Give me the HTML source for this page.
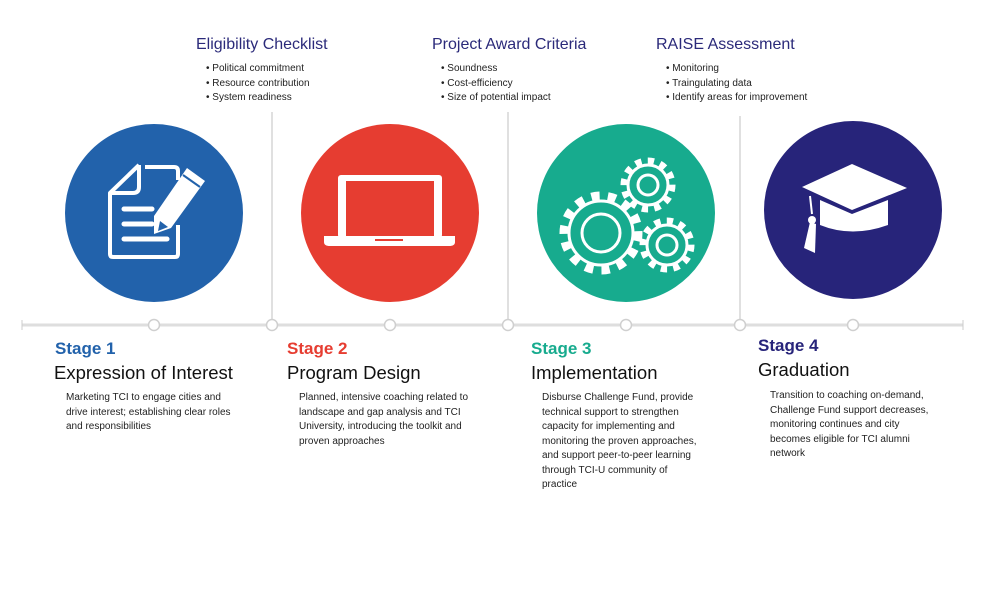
<!DOCTYPE html>
<html><head><meta charset="utf-8"><style>
body{margin:0;width:1000px;height:612px;background:#fff;font-family:"Liberation Sans",sans-serif;position:relative;overflow:hidden}
.t{position:absolute;white-space:nowrap}
.h{font-size:16px;color:#2b2a7a}
.b{font-size:10px;color:#222;line-height:14.5px}
.st{font-size:17px;font-weight:bold}
.ti{font-size:18.5px;color:#111}
.d{font-size:10px;color:#222;line-height:14.5px}
</style></head><body>
<svg width="1000" height="612" style="position:absolute;left:0;top:0">
<g stroke="#d6d6d6" stroke-width="1.5" fill="none">
<line x1="272" y1="112" x2="272" y2="319"/><line x1="508" y1="112" x2="508" y2="319"/><line x1="740" y1="116" x2="740" y2="319"/>
</g>
<line x1="22" y1="325" x2="963" y2="325" stroke="#dedede" stroke-width="3"/>
<line x1="22" y1="320" x2="22" y2="330" stroke="#ccc"/><line x1="963" y1="320" x2="963" y2="330" stroke="#ccc"/>
<g fill="#fff" stroke="#cfcfcf" stroke-width="1.5">
<circle cx="154" cy="325" r="5.5"/><circle cx="272" cy="325" r="5.5"/><circle cx="390" cy="325" r="5.5"/><circle cx="508" cy="325" r="5.5"/><circle cx="626" cy="325" r="5.5"/><circle cx="740" cy="325" r="5.5"/><circle cx="853" cy="325" r="5.5"/>
</g>
<circle cx="154" cy="213" r="89" fill="#2262ab"/>
<circle cx="390" cy="213" r="89" fill="#e63d31"/>
<circle cx="626" cy="213" r="89" fill="#17ab8e"/>
<circle cx="853" cy="210" r="89" fill="#27247a"/>
<g fill="none" stroke="#fff" stroke-width="4" stroke-linejoin="round">
<path d="M145,167 L174,167 Q178,167 178,171 L178,180 M178,225 L178,254 Q178,257 175,257 L113,257 Q110,257 110,254 L110,193 L139,165"/>
<path d="M110,193 L133,193 Q139,193 139,187 L139,165"/>
</g>
<g stroke="#fff" stroke-width="5" stroke-linecap="round"><line x1="124" y1="209" x2="152" y2="209"/><line x1="124" y1="224" x2="152" y2="224"/><line x1="124" y1="239" x2="167" y2="239"/></g>
<path d="M187,168 L205,181 L171,228 L154,234 L154,216 Z" fill="#fff"/>
<path d="M160,221 L168,227 L158,231 Z" fill="#2262ab"/>
<line x1="183" y1="175" x2="200" y2="187" stroke="#2262ab" stroke-width="2"/>
<rect x="338" y="175" width="104" height="63" rx="3" fill="#fff"/>
<rect x="346" y="181" width="88" height="55" fill="#e63d31"/>
<path d="M324,236 L455,236 L455,242 Q455,246 449,246 L330,246 Q324,246 324,242 Z" fill="#fff"/>
<rect x="375" y="239" width="28" height="2" fill="#e63d31"/>
<g>
<circle cx="601" cy="233" r="36" fill="none" stroke="#fff" stroke-width="11" stroke-dasharray="8 8"/>
<circle cx="601" cy="233" r="32" fill="#17ab8e" stroke="#fff" stroke-width="3"/>
<circle cx="601" cy="233" r="19" fill="none" stroke="#fff" stroke-width="3"/>
<circle cx="648" cy="185" r="23" fill="none" stroke="#fff" stroke-width="9" stroke-dasharray="6 6"/>
<circle cx="648" cy="185" r="20" fill="#17ab8e" stroke="#fff" stroke-width="3"/>
<circle cx="648" cy="185" r="10" fill="none" stroke="#fff" stroke-width="3"/>
<circle cx="667" cy="245" r="23" fill="none" stroke="#fff" stroke-width="9" stroke-dasharray="6 6"/>
<circle cx="667" cy="245" r="20" fill="#17ab8e" stroke="#fff" stroke-width="3"/>
<circle cx="667" cy="245" r="10" fill="none" stroke="#fff" stroke-width="3"/>
</g>
<path d="M802,187 L852,164 L907,188 L852,210 Z" fill="#fff"/>
<path d="M820,200 L852,214 L888,200 L888,225 Q852,238 820,225 Z" fill="#fff"/>
<line x1="810" y1="196" x2="812" y2="214" stroke="#fff" stroke-width="2"/>
<circle cx="812" cy="220" r="4" fill="#fff"/>
<path d="M810,222 L816,224 L815,253 L804,248 Z" fill="#fff"/>
</svg>

<div class="t h" style="left:196px;top:36px">Eligibility Checklist</div>
<div class="t b" style="left:206px;top:62px">• Political commitment<br>• Resource contribution<br>• System readiness</div>
<div class="t h" style="left:432px;top:36px">Project Award Criteria</div>
<div class="t b" style="left:441px;top:62px">• Soundness<br>• Cost-efficiency<br>• Size of potential impact</div>
<div class="t h" style="left:656px;top:36px">RAISE Assessment</div>
<div class="t b" style="left:666px;top:62px">• Monitoring<br>• Traingulating data<br>• Identify areas for improvement</div>

<div class="t st" style="left:55px;top:339px;color:#2262ab">Stage 1</div>
<div class="t ti" style="left:54px;top:362px">Expression of Interest</div>
<div class="t d" style="left:66px;top:391px">Marketing TCI to engage cities and<br>drive interest; establishing clear roles<br>and responsibilities</div>

<div class="t st" style="left:287px;top:339px;color:#e63d31">Stage 2</div>
<div class="t ti" style="left:287px;top:362px">Program Design</div>
<div class="t d" style="left:299px;top:391px">Planned, intensive coaching related to<br>landscape and gap analysis and TCI<br>University, introducing the toolkit and<br>proven approaches</div>

<div class="t st" style="left:531px;top:339px;color:#17ab8e">Stage 3</div>
<div class="t ti" style="left:531px;top:362px">Implementation</div>
<div class="t d" style="left:542px;top:391px">Disburse Challenge Fund, provide<br>technical support to strengthen<br>capacity for implementing and<br>monitoring the proven approaches,<br>and support peer-to-peer learning<br>through TCI-U community of<br>practice</div>

<div class="t st" style="left:758px;top:336px;color:#27247a">Stage 4</div>
<div class="t ti" style="left:758px;top:359px">Graduation</div>
<div class="t d" style="left:770px;top:389px">Transition to coaching on-demand,<br>Challenge Fund support decreases,<br>monitoring continues and city<br>becomes eligible for TCI alumni<br>network</div>
</body></html>
